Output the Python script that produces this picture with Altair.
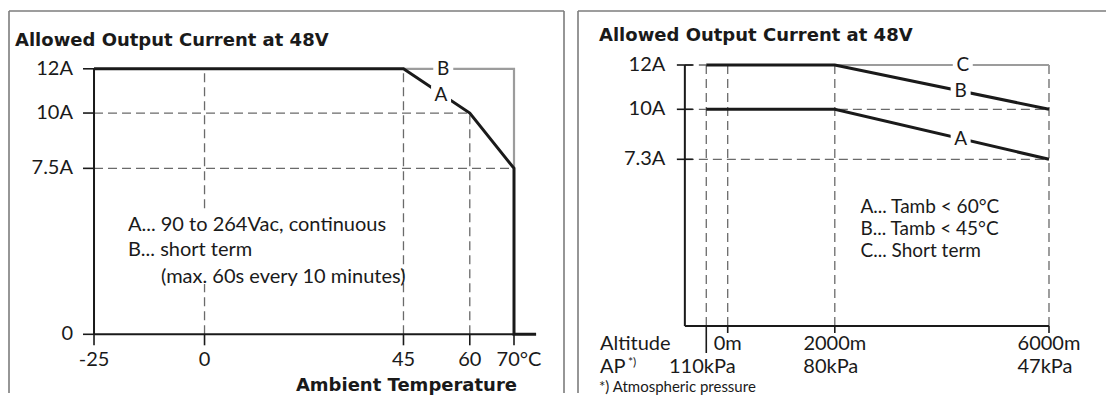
import altair as alt
import pandas as pd

# ---------------- data: left panel (output current vs ambient temperature) ----------------
temp_ticks = [-25, 0, 45, 60, 70]
temp_tick_labels = ["-25", "0", "45", "60", "70°C"]
amp_ticks_left = [0, 7.5, 10, 12]
amp_tick_labels_left = ["0", "7.5A", "10A", "12A"]
curve_a_temp = [-25, 45, 60, 70, 70, 75]
curve_a_amp = [12, 12, 10, 7.5, 0, 0]
curve_b_temp = [45, 70, 70]
curve_b_amp = [12, 12, 7.5]
notes_left = ["A... 90  to 264Vac, continuous", "B... short term", "(max. 60s every 10 minutes)"]

# ---------------- data: right panel (output current vs altitude) ----------------
altitude_ticks = [0, 2000, 6000]
altitude_tick_labels = ["0m", "2000m", "6000m"]
pressure_positions = [-400, 2000, 6000]
pressure_labels = ["110kPa", "80kPa", "47kPa"]
amp_ticks_right = [7.3, 10, 12]
amp_tick_labels_right = ["7.3A", "10A", "12A"]
curve_ra_alt = [-400, 2000, 6000]
curve_ra_amp = [10, 10, 7.3]
curve_rb_alt = [-400, 2000, 6000]
curve_rb_amp = [12, 12, 10]
curve_rc_alt = [2000, 6000]
curve_rc_amp = [12, 12]
notes_right = ["A... Tamb < 60°C", "B... Tamb < 45°C", "C... Short term"]

# ---------------- styling ----------------
FONT = "Lato"
BOLD_FONT = "DejaVu Sans"
INK = "#1a1a1a"
GRID = "#6a6a6a"
GREY = "#9c9c9c"
FRAME = "#7c7c7c"
DASH = [9, 5]
TICK_FS = 20
NOTE_FS = 20

LW, RW, H = 555, 528, 382
L_X = [-44.23, 81.31]
L_Y = [-2.653, 14.612]
R_X = [-2795.5, 7064.5]
R_Y = [-3.092, 0, 7.3, 10, 12, 14.44]

sxL = alt.Scale(domain=L_X, nice=False, zero=False)
syL = alt.Scale(domain=L_Y, nice=False, zero=False)
sxR = alt.Scale(domain=R_X, nice=False, zero=False)
syR = alt.Scale(domain=R_Y, range=[H, 315, 148.3, 98.3, 54, 0], nice=False, zero=False)


def enc(ch, sx, sy):
    return ch.encode(x=alt.X("x:Q", scale=sx, axis=None), y=alt.Y("y:Q", scale=sy, axis=None))


def segs(x, x2, y, y2, sx, sy, **mark):
    df = pd.DataFrame({"x": x, "x2": x2, "y": y, "y2": y2})
    return alt.Chart(df).mark_rule(**mark).encode(
        x=alt.X("x:Q", scale=sx, axis=None), x2="x2:Q",
        y=alt.Y("y:Q", scale=sy, axis=None), y2="y2:Q")


def line(xs, ys, sx, sy, **mark):
    df = pd.DataFrame({"x": xs, "y": ys, "i": list(range(len(xs)))})
    return alt.Chart(df).mark_line(**mark).encode(
        x=alt.X("x:Q", scale=sx, axis=None), y=alt.Y("y:Q", scale=sy, axis=None),
        order="i:Q")


def texts(xs, ys, labels, sx, sy, **mark):
    df = pd.DataFrame({"x": xs, "y": ys, "t": labels})
    kw = dict(font=FONT, color=INK, baseline="middle")
    kw.update(mark)
    return alt.Chart(df).mark_text(**kw).encode(
        x=alt.X("x:Q", scale=sx, axis=None), y=alt.Y("y:Q", scale=sy, axis=None),
        text="t:N")


def ticks(xs, ys, sx, sy, **mark):
    df = pd.DataFrame({"x": xs, "y": ys})
    return enc(alt.Chart(df).mark_tick(color=INK, opacity=1, thickness=1.6, **mark), sx, sy)


def blanks(xs, ys, sx, sy, size=400):
    df = pd.DataFrame({"x": xs, "y": ys})
    return enc(alt.Chart(df).mark_square(color="white", opacity=1, size=size, filled=True), sx, sy)


# ================= left panel =================
frame_l = segs([L_X[0], L_X[0], L_X[1]], [L_X[0], L_X[1], L_X[1]],
               [L_Y[0], L_Y[1], L_Y[0]], [L_Y[1], L_Y[1], L_Y[1]], sxL, syL,
               color=FRAME, strokeWidth=1.6)
guides_l = segs([0, 45, 60, -25, -25], [0, 45, 60, 60, 70],
                [0, 0, 0, 10, 7.5], [12, 12, 10, 10, 7.5], sxL, syL,
                color=GRID, strokeWidth=1.3, strokeDash=DASH)
note_bg_l = alt.Chart(pd.DataFrame({"x": [-19], "x2": [43], "y": [2.27], "y2": [5.53]})).mark_rect(
    color="white", opacity=1).encode(
    x=alt.X("x:Q", scale=sxL, axis=None), x2="x2:Q",
    y=alt.Y("y:Q", scale=syL, axis=None), y2="y2:Q")
notes_l = texts([-17.33, -17.33, -9.86], [4.94, 3.81, 2.59], notes_left, sxL, syL,
                align="left", fontSize=NOTE_FS)
axes_l = segs([-25, -25], [-25, 70], [0, 0], [12, 0], sxL, syL, color=INK, strokeWidth=2)
yt_l = ticks([-25] * len(amp_ticks_left), amp_ticks_left, sxL, syL,
             orient="horizontal", size=11, xOffset=-5.5)
xt_l = ticks(temp_ticks, [0] * len(temp_ticks), sxL, syL,
             orient="vertical", size=11, yOffset=5.5)
curve_b_l = line(curve_b_temp, curve_b_amp, sxL, syL, color=GREY, strokeWidth=2.2)
curve_a_l = line(curve_a_temp, curve_a_amp, sxL, syL, color=INK, strokeWidth=3)
lab_bg_l = blanks([54, 53.5], [12, 10.8], sxL, syL)
lab_l = texts([54, 53.5], [12, 10.8], ["B", "A"], sxL, syL, align="center", fontSize=19)
ylab_l = texts([-25] * len(amp_ticks_left), amp_ticks_left, amp_tick_labels_left, sxL, syL,
               align="right", dx=-21, fontSize=TICK_FS)
xlab_l = texts(temp_ticks[:-1], [0] * 4, temp_tick_labels[:-1], sxL, syL,
               align="center", dy=26, fontSize=TICK_FS)
xlab_l_last = texts(temp_ticks[-1:], [0], temp_tick_labels[-1:], sxL, syL,
                    align="center", dy=26, dx=5, fontSize=TICK_FS)
title_l = texts([L_X[0]], [12], ["Allowed Output Current at 48V"], sxL, syL,
                align="left", dx=6, dy=-28, fontSize=18, fontWeight="bold", font=BOLD_FONT)
xtitle_l = texts([70], [0], ["Ambient Temperature"], sxL, syL,
                 align="right", dx=3, dy=52, fontSize=18, fontWeight="bold", font=BOLD_FONT)

left = alt.layer(frame_l, guides_l, note_bg_l, notes_l, axes_l, yt_l, xt_l,
                 curve_b_l, curve_a_l, lab_bg_l, lab_l, ylab_l, xlab_l, xlab_l_last,
                 title_l, xtitle_l).properties(width=LW, height=H)

# ================= right panel =================
frame_r = segs([R_X[0], R_X[0]], [R_X[0], R_X[1]], [R_Y[0], R_Y[-1]],
               [R_Y[-1], R_Y[-1]], sxR, syR, color=FRAME, strokeWidth=1.6)
guides_r = segs([-400, 0, 2000, 6000, -800, -800, -800],
                [-400, 0, 2000, 6000, -400, 6000, 6000],
                [0, 0, 0, 0, 12, 10, 7.3], [12, 12, 12, 12, 12, 10, 7.3], sxR, syR,
                color=GRID, strokeWidth=1.3, strokeDash=DASH)
axes_r = segs([-800, -800], [-800, 6000], [0, 0], [12, 0], sxR, syR, color=INK, strokeWidth=2)
yt_r = ticks([-800] * len(amp_ticks_right), amp_ticks_right, sxR, syR,
             orient="horizontal", size=16)
xt_r = ticks(altitude_ticks, [0] * len(altitude_ticks), sxR, syR,
             orient="vertical", size=7, yOffset=3.5)
xt_r_long = ticks([-400], [0], sxR, syR, orient="vertical", size=27, yOffset=13.5)
curve_c_r = line(curve_rc_alt, curve_rc_amp, sxR, syR, color=GREY, strokeWidth=2.2)
curve_b_r = line(curve_rb_alt, curve_rb_amp, sxR, syR, color=INK, strokeWidth=3)
curve_a_r = line(curve_ra_alt, curve_ra_amp, sxR, syR, color=INK, strokeWidth=3)
lab_bg_r = blanks([4390, 4350, 4350], [12, 10.83, 8.41], sxR, syR)
lab_r = texts([4390, 4350, 4350], [12, 10.83, 8.41], ["C", "B", "A"], sxR, syR,
              align="center", fontSize=19)
notes_r = texts([2480] * 3, [5.21, 4.25, 3.28], notes_right, sxR, syR,
                align="left", fontSize=19)
ylab_r = texts([-800] * len(amp_ticks_right), amp_ticks_right, amp_tick_labels_right, sxR, syR,
               align="right", dx=-19.5, fontSize=TICK_FS)
xlab_r = texts(altitude_ticks, [0] * 3, altitude_tick_labels, sxR, syR,
               align="center", dy=18, fontSize=TICK_FS)
plab_r = texts(pressure_positions, [0] * 3, pressure_labels, sxR, syR,
               align="center", dy=41, dx=-4, fontSize=TICK_FS)
alt_head = texts([R_X[0]], [0], ["Altitude"], sxR, syR,
                 align="left", dx=22, dy=18, fontSize=TICK_FS)
ap_head = texts([R_X[0]], [0], ["AP"], sxR, syR, align="left", dx=22, dy=41, fontSize=TICK_FS)
ap_sup = texts([R_X[0]], [0], ["*)"], sxR, syR, align="left", dx=50, dy=36, fontSize=12)
foot = texts([R_X[0]], [0], ["*) Atmospheric pressure"], sxR, syR,
             align="left", dx=21, dy=61, fontSize=15)
title_r = texts([R_X[0]], [12], ["Allowed Output Current at 48V"], sxR, syR,
                align="left", dx=21, dy=-29, fontSize=18, fontWeight="bold", font=BOLD_FONT)

right = alt.layer(frame_r, guides_r, axes_r, yt_r, xt_r, xt_r_long,
                  curve_c_r, curve_b_r, curve_a_r, lab_bg_r, lab_r, notes_r,
                  ylab_r, xlab_r, plab_r, alt_head, ap_head, ap_sup, foot,
                  title_r).properties(width=RW, height=H)

chart = alt.hconcat(left, right, spacing=14, bounds="flush").properties(
    padding={"left": 0, "top": 2, "right": 0, "bottom": 0}
).configure_view(stroke=None)

chart.save("out.html", embed_options={"renderer": "svg", "actions": False})
